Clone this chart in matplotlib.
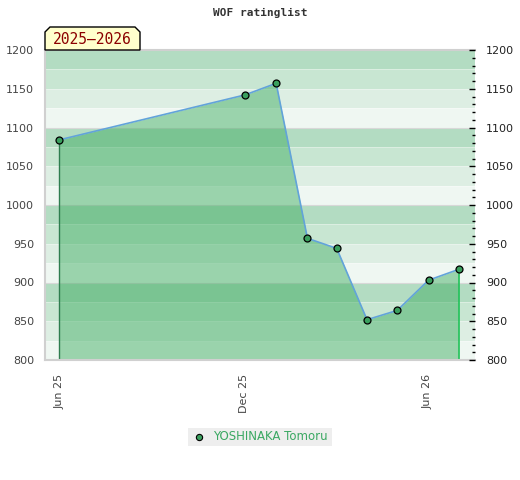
import numpy as np
import pandas as pd
import matplotlib
matplotlib.use('Agg')
import matplotlib.pyplot as plt
import matplotlib.dates as mdates
from matplotlib.patches import Polygon, Rectangle
from matplotlib.lines import Line2D

# Data
dates = pd.to_datetime(['2025-06-01', '2025-12-02', '2026-01-02', '2026-02-02', '2026-03-03',
                        '2026-04-02', '2026-05-02', '2026-06-02', '2026-07-02'])
ratings = [1084, 1142, 1157, 957, 944, 852, 864, 903, 917]
player = 'YOSHINAKA Tomoru'
season = '2025\u20132026'
title = 'WOF ratinglist'

y_min, y_max = 800, 1200
x_min, x_max = pd.Timestamp('2025-05-18'), pd.Timestamp('2026-07-18')

# band colours, from the top of each 100-block downwards
band_cols = ['#b3dcc2', '#c8e6d2', '#ddeee3', '#eff7f2']

W, H = 520, 480
fig = plt.figure(figsize=(W / 100, H / 100), dpi=100)
ax = fig.add_axes([45 / W, 1 - 360 / H, 430 / W, 310 / H])

# background bands
for lo in range(y_min, y_max, 25):
    idx = 3 - ((lo - y_min) // 25) % 4
    ax.axhspan(lo, lo + 25, color=band_cols[idx], lw=0, zorder=0)
    if lo != y_min:
        if lo % 100 == 0:
            ax.axhline(lo, color='#d8d8d8', lw=0.8, zorder=0.5)
        else:
            ax.axhline(lo, color='white', lw=0.5, alpha=0.5, zorder=0.5)

# filled area and line
ax.fill_between(dates, ratings, y_min, color='#37a95b', alpha=0.46, lw=0, zorder=1)
ax.vlines(dates[0], y_min, ratings[0], color='#2e7d4f', lw=1, zorder=2)
ax.vlines(dates[-1], y_min, ratings[-1], color='#22c35a', lw=1.2, zorder=2)
ax.plot(dates, ratings, color='#62a3da', lw=1.2, zorder=3)
ax.plot(dates, ratings, ls='none', marker='o', ms=5, mfc='#3a9f5e', mec='black', mew=0.9, zorder=4)

ax.set_xlim(x_min, x_max)
ax.set_ylim(y_min, y_max)

ax.xaxis.set_major_locator(mdates.MonthLocator(bymonth=[6, 12]))
ax.xaxis.set_major_formatter(mdates.DateFormatter('%b %y'))
ax.tick_params(axis='x', length=0, pad=10, labelsize=8, labelcolor='#444444', labelrotation=90)
ax.set_yticks(np.arange(y_min, y_max + 1, 50))
ax.tick_params(axis='y', length=0, pad=8, labelsize=8, labelcolor='#444444')

for side in ['left', 'top', 'bottom']:
    ax.spines[side].set_color('#d0d0d0')
    ax.spines[side].set_linewidth(1.5)
ax.spines['right'].set_visible(False)

# right axis with inward ticks
ax2 = ax.twinx()
ax2.set_ylim(y_min, y_max)
ax2.set_yticks(np.arange(y_min, y_max + 1, 50))
ax2.set_yticks(np.arange(y_min, y_max + 1, 10), minor=True)
ax2.tick_params(axis='y', which='major', direction='in', length=4, width=1, pad=8,
                labelsize=8, labelcolor='#222222', color='black')
ax2.tick_params(axis='y', which='minor', direction='in', length=2.5, width=1, color='black')
for side in ax2.spines:
    ax2.spines[side].set_visible(False)

# title
fig.text(260 / W, 1 - 13 / H, title, ha='center', va='center', family='DejaVu Sans Mono',
         fontweight='bold', fontsize=8, color='#333333')

# season label box with cut corners
px = lambda x, y: (x / W, 1 - y / H)
box = Polygon([px(45, 50), px(45, 32), px(50, 27), px(135, 27), px(140, 32), px(140, 50)],
              closed=True, transform=fig.transFigure, facecolor='#ffffcc', edgecolor='black',
              lw=1, zorder=10)
fig.patches.append(box)
fig.text(92.5 / W, 1 - 39.5 / H, season, ha='center', va='center', family='DejaVu Sans Mono',
         fontsize=10.5, color='#8b0000', zorder=11)

# legend
fig.patches.append(Rectangle(px(188, 446), 144 / W, 18 / H, transform=fig.transFigure,
                             facecolor='#eeeeee', edgecolor='none', zorder=5))
fig.lines.append(Line2D([199 / W], [1 - 436.5 / H], transform=fig.transFigure, ls='none',
                        marker='o', ms=4.5, mfc='#3a9f5e', mec='black', mew=0.8, zorder=6))
fig.text(213 / W, 1 - 436.5 / H, player, ha='left', va='center', fontsize=8.5,
         color='#3aa862', zorder=6)

fig.savefig('out.png', dpi=100)
